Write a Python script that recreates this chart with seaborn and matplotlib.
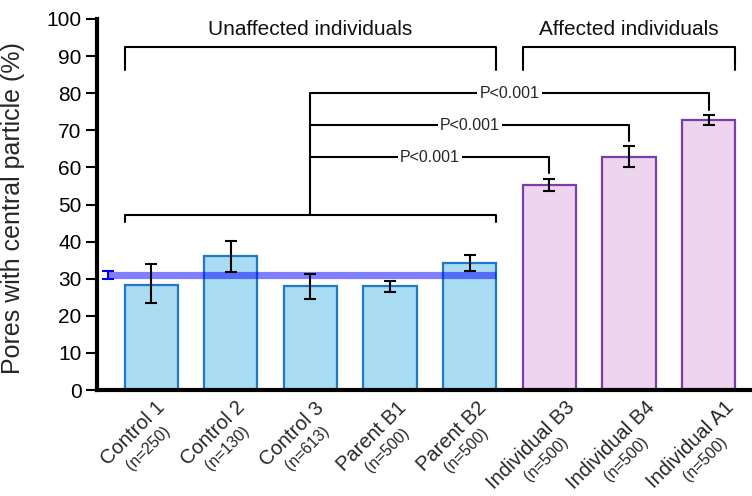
import matplotlib
matplotlib.use("Agg")
import matplotlib.pyplot as plt
import seaborn as sns
import pandas as pd
import numpy as np

# ---------------- data ----------------
categories = ["Control 1", "Control 2", "Control 3", "Parent B1", "Parent B2",
              "Individual B3", "Individual B4", "Individual A1"]
sample_sizes = ["(n=250)", "(n=130)", "(n=613)", "(n=500)", "(n=500)",
                "(n=500)", "(n=500)", "(n=500)"]
values = [28.3, 36.1, 28.1, 28.1, 34.1, 55.3, 62.7, 72.8]
err_low = [23.5, 31.9, 24.5, 26.5, 32.1, 53.6, 60.1, 71.5]
err_high = [33.9, 40.2, 31.4, 29.5, 36.4, 57.0, 65.8, 74.1]
groups = ["Unaffected"] * 5 + ["Affected"] * 3

pooled_mean = 31.0
pooled_low = 29.9
pooled_high = 32.2

group_labels = ["Unaffected individuals", "Affected individuals"]
group_members = [[0, 1, 2, 3, 4], [5, 6, 7]]
comparison_targets = [7, 6, 5]
comparison_levels = [80.0, 71.4, 62.7]
comparison_label = "P<0.001"

# ---------------- style ----------------
sns.set_style("ticks")
plt.rcParams["font.family"] = ["Liberation Sans", "DejaVu Sans"]

fill_colors = {"Unaffected": "#a9dcf2", "Affected": "#eed4ee"}
edge_colors = {"Unaffected": "#1f78c8", "Affected": "#7a3ea8"}

fig = plt.figure(figsize=(7.52, 4.96), dpi=100)
ax = fig.add_axes([97 / 752, 106 / 496, (750 - 97) / 752, (390 - 19) / 496])

df = pd.DataFrame({"category": categories, "value": values, "group": groups})
bar_w = 0.667
sns.barplot(data=df, x="category", y="value", hue="group", palette=fill_colors,
            width=bar_w, dodge=False, legend=False, errorbar=None, ax=ax,
            saturation=1, linewidth=1.6, zorder=2)

for p in list(ax.patches):
    idx = int(round(p.get_x() + p.get_width() / 2))
    if 0 <= idx < len(categories):
        p.set_edgecolor(edge_colors[groups[idx]])
        p.set_linewidth(1.6)

x = np.arange(len(categories))
vals = np.array(values)
yerr = np.vstack([vals - np.array(err_low), np.array(err_high) - vals])
ax.errorbar(x, vals, yerr=yerr, fmt="none", ecolor="black", elinewidth=1.5,
            capsize=4.5, capthick=1.5, zorder=4)

# pooled control mean line
line_x0 = -0.545
line_x1 = 4 + bar_w / 2
ax.plot([line_x0, line_x1], [pooled_mean, pooled_mean], color="#0000ff",
        alpha=0.5, lw=5.2, solid_capstyle="butt", zorder=3)
ax.errorbar([line_x0], [pooled_mean],
            yerr=[[pooled_mean - pooled_low], [pooled_high - pooled_mean]],
            fmt="none", ecolor="#0000ee", elinewidth=1.5, capsize=4.5,
            capthick=1.5, zorder=4)

# group brackets
for label, members in zip(group_labels, group_members):
    xa = members[0] - bar_w / 2
    xb = members[-1] + bar_w / 2
    ax.plot([xa, xa, xb, xb], [86.3, 92.5, 92.5, 86.3], color="black",
            lw=1.5, clip_on=False, zorder=5)
    ax.text((xa + xb) / 2, 97.2, label, ha="center", va="center",
            fontsize=15, color="#111111")

# comparison bracket
ctrl = group_members[0]
xa = ctrl[0] - bar_w / 2
xb = ctrl[-1] + bar_w / 2
ax.plot([xa, xa, xb, xb], [45.3, 47.2, 47.2, 45.3], color="black", lw=1.5,
        zorder=5)
stem_x = np.mean(ctrl)
ax.plot([stem_x, stem_x], [47.2, max(comparison_levels)], color="black",
        lw=1.5, zorder=5)
for tgt, lvl in zip(comparison_targets, comparison_levels):
    drop = err_high[tgt] + 1.4
    ax.plot([stem_x, tgt, tgt], [lvl, lvl, drop], color="black", lw=1.5,
            zorder=5)
    ax.text((stem_x + tgt) / 2, lvl, comparison_label, ha="center",
            va="center", fontsize=11.5, zorder=6,
            bbox=dict(facecolor="white", edgecolor="none", pad=1.5))

# axes formatting
ax.set_xlim(-0.68, 7.52)
ax.set_ylim(0, 100)
ax.set_yticks(np.arange(0, 101, 10))
ax.tick_params(axis="y", labelsize=15, length=8, width=1.5, direction="out",
               pad=3, colors="black")
ax.set_xticks(x)
ax.set_xticklabels([])
ax.tick_params(axis="x", length=0)
ax.set_xlabel("")
ax.set_ylabel("Pores with central particle (%)", fontsize=18)
ax.yaxis.set_label_coords(-0.11, 0.49)
for s in ["top", "right"]:
    ax.spines[s].set_visible(False)
for s in ["left", "bottom"]:
    ax.spines[s].set_linewidth(3)
    ax.spines[s].set_color("black")

# category labels (two sizes)
for i, (name, n) in enumerate(zip(categories, sample_sizes)):
    t = ax.annotate(name, xy=(i, 0), xycoords=("data", "axes fraction"),
                    xytext=(-18, -8), textcoords="offset pixels",
                    rotation=45, ha="center", va="top", fontsize=14.5)
    ax.annotate(n, xy=(0.5, 0.5), xycoords=t, xytext=(15, -14),
                textcoords="offset pixels", rotation=45,
                rotation_mode="anchor", ha="center", va="center",
                fontsize=11.5)

fig.savefig("out.png", dpi=100)
